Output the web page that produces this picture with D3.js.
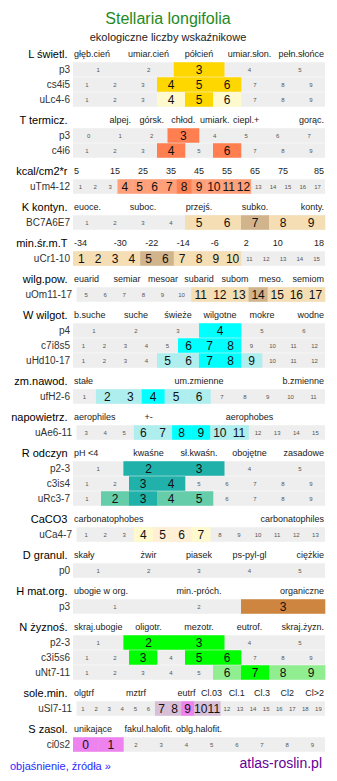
<!DOCTYPE html>
<html>
<head>
<meta charset="utf-8">
<script src="https://cdn.jsdelivr.net/npm/d3@7"></script>
<style>
body { margin: 0; background: #fff; }
svg { display: block; font-family: "Liberation Sans", Arial, sans-serif; }
</style>
</head>
<body>
<script>
// tytuły sekcji (lewa kolumna)
const sectionTitles = ["L świetl.", "T termicz.", "kcal/cm2*r", "K kontyn.", "min.śr.m.T", "wilg.pow.",
  "W wilgot.", "zm.nawod.", "napowietrz.", "R odczyn", "CaCO3", "D granul.", "H mat.org.",
  "N żyznoś.", "sole.min.", "S zasol."];

// opisy skali nad wierszami (puste = brak opisu w danej kolumnie)
const sectionTicks = [
  ["głęb.cień", "umiar.cień", "półcień", "umiar.słon.", "pełn.słońce"],
  ["", "alpej.", "górsk.", "chłod.", "umiark.", "ciepl.+", "", "gorąc."],
  ["5", "15", "25", "35", "45", "55", "65", "75", "85"],
  ["euoce.", "", "suboc.", "", "przejś.", "", "subko.", "", "konty."],
  ["-34", "-30", "-22", "-14", "-6", "2", "10", "18"],
  ["euarid", "semiar", "mesoar", "subarid", "subom", "meso.", "semiom"],
  ["b.suche", "suche", "świeże", "wilgotne", "mokre", "wodne"],
  ["stałe", "um.zmienne", "b.zmienne"],
  ["aerophiles", "+-", "", "aerophobes", ""],
  ["pH <4", "kwaśne", "sł.kwaśn.", "obojętne", "zasadowe"],
  ["carbonatophobes", "carbonatophiles"],
  ["skały", "żwir", "piasek", "ps-pyl-gl", "ciężkie"],
  ["ubogie w org.", "min.-próch.", "organiczne"],
  ["skraj.ubogie", "oligotr.", "mezotr.", "eutrof.", "skraj.żyzn."],
  ["olgtrf", "", "mztrf", "", "eutrf", "Cl.03", "Cl.1", "Cl.3", "Cl2", "Cl>2"],
  ["unikające", "fakul.halofit.", "oblg.halofit.", "", ""]
];

// wiersze w każdej sekcji
const rowNames = [["p3", "cs4i5", "uLc4-6"], ["p3", "c4i6"], ["uTm4-12"], ["BC7A6E7"], ["uCr1-10"],
  ["uOm11-17"], ["p4", "c7i8s5", "uHd10-17"], ["ufH2-6"], ["uAe6-11"], ["p2-3", "c3is4", "uRc3-7"],
  ["uCa4-7"], ["p0"], ["p3"], ["p2-3", "c3i5s6", "uNt7-11"], ["uSl7-11"], ["ci0s2"]];

// zakres skali w wierszu
const rowFirst = [[1, 1, 1], [0, 1], [1], [1], [1], [5], [1, 1, 1], [1], [3], [1, 1, 1], [1], [1], [1], [1, 1, 1], [1], [0]];
const rowLast = [[5, 9, 9], [7, 9], [17], [9], [15], [17], [6, 12, 12], [11], [15], [5, 9, 9], [13], [5], [3], [5, 9, 9], [19], [9]];

// wartości wskaźnika (mocne i słabe)
const rowStrong = [[[3], [4, 5, 6], [5]], [[3], [4, 6]], [[8]], [[7]], [[5, 6]], [[14]],
  [[4], [6, 7, 8], [7, 8]], [[4]], [[8, 9]], [[2, 3], [3, 4], [3]], [[5, 6]], [[]], [[3]],
  [[2, 3], [3, 5, 6], [7]], [[9]], [[0, 1]]];
const rowLight = [[[], [], [4, 6]], [[], []], [[4, 5, 6, 7, 9, 10, 11, 12]], [[5, 6, 8, 9]],
  [[1, 2, 3, 4, 7, 8, 9, 10]], [[11, 12, 13, 15, 16, 17]], [[], [], [5, 6, 9]], [[2, 3, 5, 6]],
  [[6, 7, 10, 11]], [[], [], [2, 4, 5]], [[4, 7]], [[]], [[]], [[], [], [6, 8, 9]], [[7, 8, 10, 11]], [[]]];

// kolory sekcji
const strongColors = ["#ffd700", "#ff7f50", "#ff7f50", "#d2b48c", "#d2b48c", "#d2b48c", "#00ffff", "#00ffff",
  "#00ffff", "#20b2aa", "#ffefd5", "#eeeeee", "#cd853f", "#00ff00", "#ee82ee", "#ee82ee"];
const lightColors = ["#fffacd", "#ffa07a", "#ffa07a", "#f5deb3", "#f5deb3", "#f5deb3", "#afeeee", "#afeeee",
  "#afeeee", "#66cdaa", "#fffacd", "#eeeeee", "#eeeeee", "#90ee90", "#d8bfd8", "#eeeeee"];

// wiersze z szerszą etykietą (pasek zaczyna się trochę dalej)
const wideRows = ["uOm11-17", "uAe6-11", "uCa4-7", "uSl7-11"];

const width = 337;
const height = 781;
const x0 = 73, x1 = 325;

const svg = d3.select("body").append("svg")
  .attr("width", width)
  .attr("height", height);

svg.append("text")
  .attr("x", 168).attr("y", 24)
  .attr("text-anchor", "middle")
  .attr("font-size", 16)
  .attr("fill", "#1f8a1f")
  .text("Stellaria longifolia");

svg.append("text")
  .attr("x", 168).attr("y", 41)
  .attr("text-anchor", "middle")
  .attr("font-size", 11)
  .attr("fill", "#222")
  .text("ekologiczne liczby wskaźnikowe");

let y = 54;

sectionTitles.forEach(function (tytul, s) {
  svg.append("text")
    .attr("x", 67.5).attr("y", y).attr("dy", "0.35em")
    .attr("text-anchor", "end")
    .attr("font-size", 11)
    .attr("fill", "#000")
    .text(tytul);

  const ticks = sectionTicks[s];
  const tickX = d3.scaleBand().domain(d3.range(ticks.length)).range([x0, x1]);
  ticks.forEach(function (lab, i) {
    if (!lab) return;
    let anchor = "middle";
    let xx = tickX(i) + tickX.bandwidth() / 2;
    if (i === 0) { anchor = "start"; xx = x0 + 1; }
    else if (i === ticks.length - 1) { anchor = "end"; xx = x1 - 1; }
    svg.append("text")
      .attr("x", xx).attr("y", y).attr("dy", "0.35em")
      .attr("text-anchor", anchor)
      .attr("font-size", 9)
      .attr("fill", "#222")
      .text(lab);
  });

  y += 15.5;

  rowNames[s].forEach(function (nazwa, k) {
    const wide = wideRows.includes(nazwa);
    const left = wide ? 76.5 : x0;
    const cells = d3.range(rowFirst[s][k], rowLast[s][k] + 1);
    const cellX = d3.scaleBand().domain(cells).range([left, x1]);
    const strong = rowStrong[s][k];
    const light = rowLight[s][k];

    svg.append("text")
      .attr("x", wide ? 72 : 70).attr("y", y).attr("dy", "0.35em")
      .attr("text-anchor", "end")
      .attr("font-size", 10)
      .attr("fill", "#333")
      .text(nazwa);

    const g = svg.append("g");
    g.append("rect")
      .attr("x", left).attr("y", y - 7.25)
      .attr("width", x1 - left).attr("height", 14.5)
      .attr("fill", "#eeeeee");

    g.selectAll("rect.cell")
      .data(cells.filter(c => strong.includes(c) || light.includes(c)))
      .enter().append("rect")
      .attr("class", "cell")
      .attr("x", c => cellX(c))
      .attr("y", y - 7.25)
      .attr("width", cellX.bandwidth() + 0.3)
      .attr("height", 14.5)
      .attr("fill", c => strong.includes(c) ? strongColors[s] : lightColors[s]);

    g.selectAll("text")
      .data(cells)
      .enter().append("text")
      .attr("x", c => cellX(c) + cellX.bandwidth() / 2)
      .attr("y", y)
      .attr("dy", "0.35em")
      .attr("text-anchor", "middle")
      .attr("font-size", c => (strong.includes(c) || light.includes(c)) ? 12 : 6)
      .attr("fill", c => (strong.includes(c) || light.includes(c)) ? "#111" : "#555")
      .text(c => c);

    y += 15;
  });

  y += 5.5;
});

svg.append("text")
  .attr("x", 10).attr("y", 766).attr("dy", "0.35em")
  .attr("font-size", 11)
  .attr("fill", "#2a2aff")
  .text("objaśnienie, źródła »");

svg.append("text")
  .attr("x", 322).attr("y", 763).attr("dy", "0.35em")
  .attr("text-anchor", "end")
  .attr("font-size", 14)
  .attr("fill", "#660099")
  .text("atlas-roslin.pl");
</script>
</body>
</html>
